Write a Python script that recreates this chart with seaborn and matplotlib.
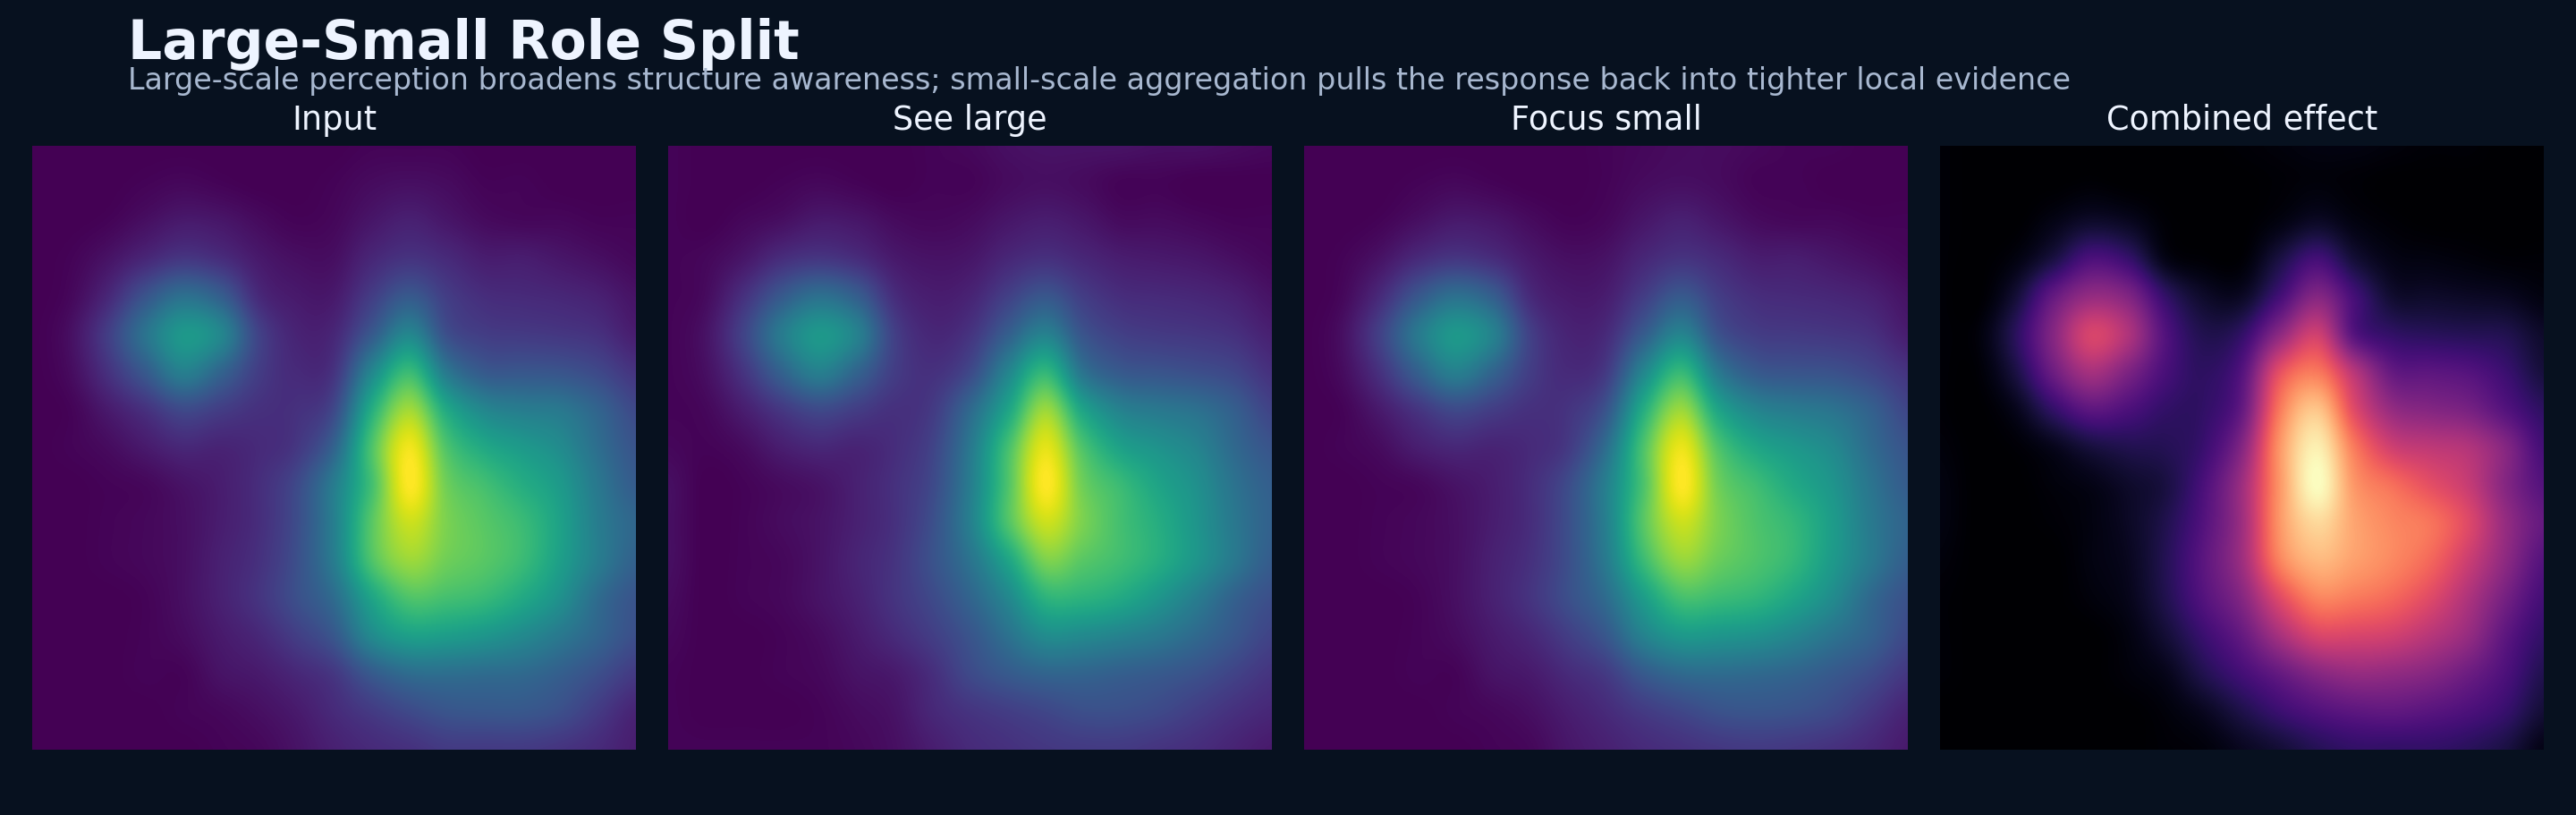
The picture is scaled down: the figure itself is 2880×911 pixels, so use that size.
import numpy as np
import matplotlib
matplotlib.use('Agg')
import matplotlib.pyplot as plt
import seaborn as sns

# --- data: responses, in percent of the colour range ---
panel_titles = ['Input', 'See large', 'Focus small', 'Combined effect']
panel_cmaps = ['viridis', 'viridis', 'viridis', 'magma']

input_map = [
    [0, 0, 0, 0, 0, 0, 0, 0, 0, 1, 1, 1, 0, 0, 0, 0, 0],
    [0, 0, 0, 1, 2, 1, 0, 0, 1, 3, 4, 3, 1, 1, 0, 0, 0],
    [0, 0, 1, 4, 7, 6, 3, 1, 2, 6, 9, 6, 3, 2, 2, 1, 1],
    [0, 1, 5, 11, 16, 13, 7, 4, 4, 11, 15, 12, 8, 8, 6, 4, 2],
    [0, 2, 11, 26, 37, 30, 12, 7, 7, 18, 28, 18, 13, 12, 11, 9, 5],
    [0, 4, 18, 38, 53, 46, 20, 10, 11, 28, 46, 24, 18, 17, 16, 14, 8],
    [0, 3, 14, 28, 43, 32, 18, 12, 15, 46, 68, 40, 28, 27, 26, 22, 15],
    [0, 1, 7, 14, 22, 18, 14, 14, 22, 62, 86, 60, 46, 42, 40, 32, 22],
    [0, 1, 3, 7, 11, 10, 12, 16, 32, 72, 98, 72, 60, 54, 48, 36, 26],
    [0, 0, 1, 2, 5, 8, 13, 22, 42, 70, 100, 78, 70, 62, 54, 40, 29],
    [0, 0, 1, 2, 4, 8, 13, 23, 43, 74, 92, 80, 74, 68, 57, 42, 33],
    [0, 0, 1, 2, 4, 9, 14, 24, 42, 72, 85, 78, 74, 68, 56, 42, 31],
    [0, 0, 0, 1, 4, 9, 15, 24, 35, 58, 72, 70, 67, 60, 50, 35, 26],
    [0, 0, 0, 1, 3, 7, 11, 18, 27, 47, 56, 55, 52, 47, 40, 32, 24],
    [0, 0, 0, 1, 1, 5, 7, 11, 16, 28, 35, 36, 35, 34, 30, 24, 17],
    [0, 0, 0, 0, 1, 2, 4, 7, 12, 17, 22, 26, 27, 27, 24, 17, 10],
    [0, 0, 0, 0, 0, 1, 2, 5, 9, 12, 14, 17, 17, 17, 15, 12, 8],
]

see_large_map = [
    [1, 0, 0, 0, 0, 0, 0, 1, 2, 4, 5, 5, 5, 4, 4, 3, 2],
    [1, 0, 0, 1, 2, 1, 0, 1, 1, 3, 4, 3, 1, 1, 0, 0, 0],
    [1, 0, 2, 4, 7, 6, 3, 2, 3, 6, 8, 6, 3, 3, 2, 1, 1],
    [1, 2, 6, 13, 16, 13, 7, 5, 6, 11, 14, 11, 8, 7, 6, 4, 2],
    [1, 3, 14, 28, 37, 30, 13, 8, 10, 19, 27, 18, 13, 12, 11, 9, 5],
    [1, 5, 20, 41, 53, 44, 19, 11, 15, 30, 44, 26, 19, 17, 16, 14, 9],
    [1, 4, 15, 31, 43, 32, 18, 14, 22, 45, 66, 38, 28, 26, 24, 21, 14],
    [1, 2, 8, 16, 22, 18, 14, 17, 34, 58, 85, 58, 44, 40, 37, 30, 20],
    [2, 1, 3, 8, 11, 10, 13, 20, 40, 70, 96, 72, 57, 51, 45, 34, 26],
    [4, 0, 1, 3, 5, 9, 14, 22, 42, 72, 100, 78, 68, 58, 50, 38, 30],
    [4, 0, 1, 3, 5, 9, 14, 24, 43, 72, 92, 80, 70, 62, 52, 40, 31],
    [4, 0, 1, 2, 5, 10, 15, 25, 38, 58, 80, 74, 69, 62, 52, 40, 29],
    [3, 0, 1, 2, 5, 9, 15, 22, 32, 46, 64, 64, 60, 52, 42, 31, 24],
    [2, 0, 0, 1, 3, 7, 12, 18, 26, 37, 48, 47, 44, 40, 34, 27, 20],
    [1, 0, 0, 1, 2, 5, 7, 13, 22, 28, 32, 32, 30, 28, 25, 20, 15],
    [1, 0, 0, 0, 1, 3, 5, 11, 15, 18, 21, 24, 24, 22, 18, 14, 11],
    [1, 1, 1, 1, 1, 2, 4, 8, 12, 14, 16, 17, 17, 15, 13, 10, 7],
]

focus_small_map = [
    [0, 0, 0, 0, 0, 0, 0, 0, 1, 2, 3, 3, 2, 1, 1, 0, 0],
    [0, 0, 0, 1, 2, 1, 0, 0, 1, 3, 4, 3, 1, 1, 0, 0, 0],
    [0, 0, 1, 4, 7, 6, 3, 1, 2, 6, 9, 6, 3, 2, 2, 1, 1],
    [0, 1, 5, 12, 16, 13, 7, 4, 5, 11, 15, 12, 8, 8, 6, 4, 2],
    [0, 2, 12, 27, 37, 30, 12, 7, 8, 18, 28, 18, 13, 12, 11, 9, 5],
    [0, 4, 19, 40, 53, 44, 19, 10, 12, 29, 45, 25, 18, 17, 16, 14, 8],
    [0, 3, 14, 30, 43, 32, 18, 12, 17, 46, 67, 40, 28, 26, 25, 21, 15],
    [0, 1, 7, 15, 22, 18, 14, 15, 26, 62, 85, 58, 45, 41, 38, 31, 21],
    [0, 1, 3, 8, 11, 10, 12, 17, 36, 72, 97, 72, 59, 53, 47, 35, 26],
    [0, 0, 1, 2, 5, 8, 13, 23, 43, 72, 100, 78, 69, 60, 52, 39, 29],
    [0, 0, 1, 2, 4, 8, 13, 24, 43, 74, 92, 80, 72, 66, 55, 41, 32],
    [0, 0, 1, 2, 4, 9, 14, 24, 41, 68, 84, 77, 72, 66, 54, 41, 30],
    [0, 0, 0, 1, 4, 9, 15, 24, 35, 55, 70, 68, 65, 58, 48, 34, 25],
    [0, 0, 0, 1, 3, 7, 11, 18, 27, 44, 53, 52, 50, 45, 38, 31, 22],
    [0, 0, 0, 1, 1, 5, 7, 12, 17, 28, 34, 35, 34, 32, 28, 23, 16],
    [0, 0, 0, 0, 1, 2, 4, 8, 12, 17, 21, 25, 26, 25, 22, 16, 10],
    [0, 0, 0, 0, 0, 1, 2, 6, 9, 12, 14, 16, 17, 16, 14, 11, 7],
]

combined_map = [
    [1, 0, 0, 0, 0, 0, 0, 0, 1, 2, 3, 3, 2, 1, 1, 0, 0],
    [1, 0, 0, 0, 1, 0, 0, 0, 0, 1, 2, 1, 0, 0, 0, 0, 0],
    [1, 0, 0, 4, 8, 6, 1, 0, 0, 3, 7, 3, 1, 0, 0, 0, 0],
    [1, 0, 3, 12, 24, 19, 4, 1, 1, 12, 22, 10, 4, 3, 2, 1, 1],
    [1, 0, 10, 30, 42, 37, 18, 8, 7, 22, 38, 22, 9, 8, 7, 6, 3],
    [1, 2, 16, 38, 58, 48, 25, 14, 18, 40, 56, 26, 18, 16, 15, 14, 8],
    [1, 1, 12, 32, 46, 36, 23, 17, 26, 62, 72, 50, 30, 28, 26, 20, 11],
    [1, 0, 5, 18, 28, 24, 18, 18, 30, 72, 88, 60, 42, 38, 35, 26, 17],
    [2, 0, 1, 5, 11, 14, 15, 20, 38, 78, 97, 72, 56, 52, 49, 38, 22],
    [3, 0, 0, 2, 4, 8, 12, 24, 44, 78, 100, 78, 70, 62, 54, 38, 26],
    [3, 0, 0, 1, 3, 7, 14, 26, 44, 78, 92, 81, 75, 71, 60, 42, 30],
    [2, 0, 0, 0, 3, 6, 15, 28, 44, 74, 85, 80, 75, 68, 55, 40, 26],
    [1, 0, 0, 0, 2, 5, 14, 26, 38, 60, 74, 72, 68, 60, 48, 34, 22],
    [1, 0, 0, 0, 0, 3, 10, 20, 30, 46, 58, 58, 56, 50, 42, 28, 18],
    [1, 0, 0, 0, 0, 2, 5, 14, 22, 30, 38, 42, 41, 38, 32, 24, 14],
    [0, 0, 0, 0, 0, 0, 2, 6, 13, 20, 25, 28, 29, 27, 24, 19, 10],
    [0, 0, 0, 0, 0, 0, 1, 2, 6, 10, 15, 18, 18, 18, 16, 12, 4],
]

panel_maps = [input_map, see_large_map, focus_small_map, combined_map]

bg_color = '#07111f'

sns.set_theme(style='dark')
plt.rcParams['figure.facecolor'] = bg_color
plt.rcParams['font.family'] = ['DejaVu Sans']

fig = plt.figure(figsize=(14.4, 4.56), dpi=200)

# pixel boxes of the four panels in the 2880x912 canvas
lefts = [36, 747, 1458, 2169]
for left, name, cmap_name, values in zip(lefts, panel_titles, panel_cmaps, panel_maps):
    ax = fig.add_axes([left / 2880, 1 - 839 / 912, 675 / 2880, 675 / 912])
    values = np.array(values)
    n = values.shape[0]
    cmap = sns.color_palette(cmap_name, as_cmap=True)

    # seaborn sets up the axes, the image on top gives the smooth look
    sns.heatmap(values, ax=ax, cmap=cmap, vmin=0, vmax=100, cbar=False,
                xticklabels=False, yticklabels=False)
    ax.collections[0].set_visible(False)
    ax.imshow(values, cmap=cmap, vmin=0, vmax=100, interpolation='catrom',
              extent=(-0.5, n - 0.5, n - 0.5, -0.5), aspect='auto')
    ax.set_xlim(0, n - 1)
    ax.set_ylim(n - 1, 0)
    ax.set_title(name, color='#eef4ff', fontsize=13.2, pad=7)
    for spine in ax.spines.values():
        spine.set_visible(False)

fig.text(143 / 2880, 1 - 66 / 912, 'Large-Small Role Split', color='#eef4ff',
         fontsize=21.6, fontweight='bold', ha='left', va='baseline')
fig.text(143 / 2880, 1 - 100 / 912,
         'Large-scale perception broadens structure awareness; small-scale aggregation '
         'pulls the response back into tighter local evidence',
         color='#a8b8d0', fontsize=12, ha='left', va='baseline')

fig.savefig('out.png', dpi=200, facecolor=bg_color)
